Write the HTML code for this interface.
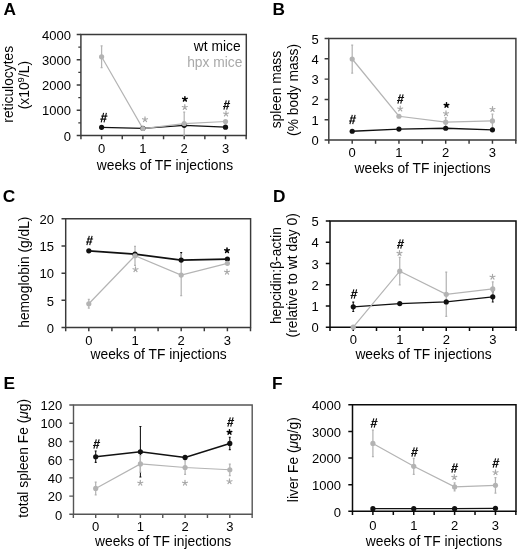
<!DOCTYPE html>
<html><head><meta charset="utf-8"><style>
html,body{margin:0;padding:0;background:#fff;}
svg{display:block;font-family:'Liberation Sans', sans-serif;filter:grayscale(1);}
</style></head><body>
<svg width="520" height="553" viewBox="0 0 520 553">
<rect width="520" height="553" fill="#fff"/>
<path d="M80.9 34.5H246.3V135.5H80.9Z" stroke="#3a3a3a" stroke-width="1.45" fill="none"/>
<path d="M76.70 135.50H80.9M76.70 110.25H80.9M76.70 85.00H80.9M76.70 59.75H80.9M76.70 34.50H80.9M78.30 122.88H80.9M78.30 97.62H80.9M78.30 72.38H80.9M78.30 47.12H80.9M80.95 135.5V139.30M101.60 135.5V139.30M122.25 135.5V139.30M142.90 135.5V139.30M163.55 135.5V139.30M184.20 135.5V139.30M204.85 135.5V139.30M225.50 135.5V139.30M246.15 135.5V139.30" stroke="#3a3a3a" stroke-width="1.45" fill="none"/>
<text x="71.00" y="140.70" font-size="13.0" text-anchor="end">0</text>
<text x="71.00" y="115.45" font-size="13.0" text-anchor="end">1000</text>
<text x="71.00" y="90.20" font-size="13.0" text-anchor="end">2000</text>
<text x="71.00" y="64.95" font-size="13.0" text-anchor="end">3000</text>
<text x="71.00" y="39.70" font-size="13.0" text-anchor="end">4000</text>
<text x="101.60" y="153.00" font-size="13.0" text-anchor="middle">0</text>
<text x="142.90" y="153.00" font-size="13.0" text-anchor="middle">1</text>
<text x="184.20" y="153.00" font-size="13.0" text-anchor="middle">2</text>
<text x="225.50" y="153.00" font-size="13.0" text-anchor="middle">3</text>
<text x="96.80" y="169.50" font-size="13.8">weeks of TF injections</text>
<text transform="translate(12.70 84.30) rotate(-90)" font-size="13.8" text-anchor="middle">reticulocytes</text>
<text transform="translate(29.00 85.10) rotate(-90)" font-size="13.8" text-anchor="middle">(x10<tspan font-size="9.5" dy="-5">9</tspan><tspan dy="5">/L)</tspan></text>
<text x="3.55" y="15" font-size="17.3" font-weight="bold">A</text>
<path d="M101.60 45.94V67.65M100.60 45.94H102.60M100.60 67.65H102.60M184.20 112.12V135.10M183.20 112.12H185.20M183.20 135.10H185.20" stroke="#b4b4b4" stroke-width="1.25" fill="none"/>
<polyline points="101.60,127.29 142.90,128.30 184.20,125.30 225.50,127.19" stroke="#111" stroke-width="1.3" fill="none"/>
<polyline points="101.60,56.80 142.90,128.51 184.20,123.61 225.50,121.51" stroke="#b4b4b4" stroke-width="1.2" fill="none"/>
<circle cx="101.60" cy="127.29" r="2.6" fill="#111"/>
<circle cx="142.90" cy="128.30" r="2.6" fill="#111"/>
<circle cx="184.20" cy="125.30" r="2.6" fill="#111"/>
<circle cx="225.50" cy="127.19" r="2.6" fill="#111"/>
<circle cx="101.60" cy="56.80" r="2.6" fill="#b3b3b3"/>
<circle cx="142.90" cy="128.51" r="2.6" fill="#b3b3b3"/>
<circle cx="184.20" cy="123.61" r="2.6" fill="#b3b3b3"/>
<circle cx="225.50" cy="121.51" r="2.6" fill="#b3b3b3"/>
<path d="M103.60 112.90L101.20 122.30M106.40 112.90L104.00 122.30M101.30 116.10H107.40M100.30 119.10H106.40" stroke="#111" stroke-width="1.15" fill="none"/>
<path d="M145.00 119.50L145.00 116.90M145.00 119.50L147.47 118.70M145.00 119.50L146.53 121.60M145.00 119.50L143.47 121.60M145.00 119.50L142.53 118.70" stroke="#a8a8a8" stroke-width="1.2" stroke-linecap="round" fill="none"/>
<path d="M184.80 107.30L184.80 104.70M184.80 107.30L187.27 106.50M184.80 107.30L186.33 109.40M184.80 107.30L183.27 109.40M184.80 107.30L182.33 106.50" stroke="#a8a8a8" stroke-width="1.2" stroke-linecap="round" fill="none"/>
<path d="M184.90 99.10L184.90 96.70M184.90 99.10L187.18 98.36M184.90 99.10L186.31 101.04M184.90 99.10L183.49 101.04M184.90 99.10L182.62 98.36" stroke="#000" stroke-width="1.5" stroke-linecap="round" fill="none"/>
<path d="M226.00 113.80L226.00 111.20M226.00 113.80L228.47 113.00M226.00 113.80L227.53 115.90M226.00 113.80L224.47 115.90M226.00 113.80L223.53 113.00" stroke="#a8a8a8" stroke-width="1.2" stroke-linecap="round" fill="none"/>
<path d="M226.30 100.30L223.90 109.70M229.10 100.30L226.70 109.70M224.00 103.50H230.10M223.00 106.50H229.10" stroke="#111" stroke-width="1.15" fill="none"/>
<text x="240.6" y="50.8" font-size="13.8" text-anchor="end">wt mice</text>
<text x="242.4" y="67.0" font-size="13.8" text-anchor="end" fill="#a9a9a9">hpx mice</text>
<path d="M328.8 38.5H515.9V140.0H328.8Z" stroke="#3a3a3a" stroke-width="1.45" fill="none"/>
<path d="M324.60 140.00H328.8M324.60 119.70H328.8M324.60 99.40H328.8M324.60 79.10H328.8M324.60 58.80H328.8M324.60 38.50H328.8M328.82 140.0V143.80M352.20 140.0V143.80M375.57 140.0V143.80M398.95 140.0V143.80M422.32 140.0V143.80M445.70 140.0V143.80M469.07 140.0V143.80M492.45 140.0V143.80M515.83 140.0V143.80" stroke="#3a3a3a" stroke-width="1.45" fill="none"/>
<text x="318.70" y="145.20" font-size="13.0" text-anchor="end">0</text>
<text x="318.70" y="124.90" font-size="13.0" text-anchor="end">1</text>
<text x="318.70" y="104.60" font-size="13.0" text-anchor="end">2</text>
<text x="318.70" y="84.30" font-size="13.0" text-anchor="end">3</text>
<text x="318.70" y="64.00" font-size="13.0" text-anchor="end">4</text>
<text x="318.70" y="43.70" font-size="13.0" text-anchor="end">5</text>
<text x="352.20" y="157.00" font-size="13.0" text-anchor="middle">0</text>
<text x="398.95" y="157.00" font-size="13.0" text-anchor="middle">1</text>
<text x="445.70" y="157.00" font-size="13.0" text-anchor="middle">2</text>
<text x="492.45" y="157.00" font-size="13.0" text-anchor="middle">3</text>
<text x="354.50" y="172.50" font-size="13.8">weeks of TF injections</text>
<text transform="translate(281.40 89.60) rotate(-90)" font-size="13.8" text-anchor="middle">spleen mass</text>
<text transform="translate(297.60 89.90) rotate(-90)" font-size="13.8" text-anchor="middle">(% body mass)</text>
<text x="272.6" y="15.2" font-size="17.3" font-weight="bold">B</text>
<path d="M352.20 45.00V73.01M351.20 45.00H353.20M351.20 73.01H353.20M445.70 117.67V126.60M444.70 117.67H446.70M444.70 126.60H446.70M492.45 114.02V127.82M491.45 114.02H493.45M491.45 127.82H493.45" stroke="#b4b4b4" stroke-width="1.25" fill="none"/>
<polyline points="352.20,131.27 398.95,129.04 445.70,128.23 492.45,129.85" stroke="#111" stroke-width="1.3" fill="none"/>
<polyline points="352.20,59.00 398.95,116.25 445.70,122.14 492.45,120.92" stroke="#b4b4b4" stroke-width="1.2" fill="none"/>
<circle cx="352.20" cy="131.27" r="2.6" fill="#111"/>
<circle cx="398.95" cy="129.04" r="2.6" fill="#111"/>
<circle cx="445.70" cy="128.23" r="2.6" fill="#111"/>
<circle cx="492.45" cy="129.85" r="2.6" fill="#111"/>
<circle cx="352.20" cy="59.00" r="2.6" fill="#b3b3b3"/>
<circle cx="398.95" cy="116.25" r="2.6" fill="#b3b3b3"/>
<circle cx="445.70" cy="122.14" r="2.6" fill="#b3b3b3"/>
<circle cx="492.45" cy="120.92" r="2.6" fill="#b3b3b3"/>
<path d="M352.30 114.80L349.90 124.20M355.10 114.80L352.70 124.20M350.00 118.00H356.10M349.00 121.00H355.10" stroke="#111" stroke-width="1.15" fill="none"/>
<path d="M400.30 94.30L397.90 103.70M403.10 94.30L400.70 103.70M398.00 97.50H404.10M397.00 100.50H403.10" stroke="#111" stroke-width="1.15" fill="none"/>
<path d="M400.20 108.80L400.20 106.20M400.20 108.80L402.67 108.00M400.20 108.80L401.73 110.90M400.20 108.80L398.67 110.90M400.20 108.80L397.73 108.00" stroke="#a8a8a8" stroke-width="1.2" stroke-linecap="round" fill="none"/>
<path d="M446.00 113.50L446.00 110.90M446.00 113.50L448.47 112.70M446.00 113.50L447.53 115.60M446.00 113.50L444.47 115.60M446.00 113.50L443.53 112.70" stroke="#a8a8a8" stroke-width="1.2" stroke-linecap="round" fill="none"/>
<path d="M446.50 105.20L446.50 102.80M446.50 105.20L448.78 104.46M446.50 105.20L447.91 107.14M446.50 105.20L445.09 107.14M446.50 105.20L444.22 104.46" stroke="#000" stroke-width="1.5" stroke-linecap="round" fill="none"/>
<path d="M492.50 109.30L492.50 106.70M492.50 109.30L494.97 108.50M492.50 109.30L494.03 111.40M492.50 109.30L490.97 111.40M492.50 109.30L490.03 108.50" stroke="#a8a8a8" stroke-width="1.2" stroke-linecap="round" fill="none"/>
<path d="M65.7 218.8H250.6V327.5H65.7Z" stroke="#3a3a3a" stroke-width="1.45" fill="none"/>
<path d="M61.50 327.50H65.7M61.50 300.32H65.7M61.50 273.15H65.7M61.50 245.98H65.7M61.50 218.80H65.7M65.70 327.5V331.30M88.80 327.5V331.30M111.90 327.5V331.30M135.00 327.5V331.30M158.10 327.5V331.30M181.20 327.5V331.30M204.30 327.5V331.30M227.40 327.5V331.30M250.50 327.5V331.30" stroke="#3a3a3a" stroke-width="1.45" fill="none"/>
<text x="54.00" y="332.70" font-size="13.0" text-anchor="end">0</text>
<text x="54.00" y="305.53" font-size="13.0" text-anchor="end">5</text>
<text x="54.00" y="278.35" font-size="13.0" text-anchor="end">10</text>
<text x="54.00" y="251.18" font-size="13.0" text-anchor="end">15</text>
<text x="54.00" y="224.00" font-size="13.0" text-anchor="end">20</text>
<text x="88.80" y="344.80" font-size="13.0" text-anchor="middle">0</text>
<text x="135.00" y="344.80" font-size="13.0" text-anchor="middle">1</text>
<text x="181.20" y="344.80" font-size="13.0" text-anchor="middle">2</text>
<text x="227.40" y="344.80" font-size="13.0" text-anchor="middle">3</text>
<text x="90.50" y="359.00" font-size="13.8">weeks of TF injections</text>
<text transform="translate(28.60 272.15) rotate(-90)" font-size="13.8" text-anchor="middle">hemoglobin (g/dL)</text>
<text x="2.76" y="201.9" font-size="17.3" font-weight="bold">C</text>
<path d="M181.20 252.50V260.11M180.20 252.50H182.20M180.20 260.11H182.20" stroke="#111" stroke-width="1.05" fill="none"/>
<path d="M88.80 299.40V308.10M87.80 299.40H89.80M87.80 308.10H89.80M135.00 246.25V265.27M134.00 246.25H136.00M134.00 265.27H136.00M181.20 254.40V295.71M180.20 254.40H182.20M180.20 295.71H182.20" stroke="#b4b4b4" stroke-width="1.25" fill="none"/>
<polyline points="88.80,250.87 135.00,254.13 181.20,260.11 227.40,259.02" stroke="#111" stroke-width="1.75" fill="none"/>
<polyline points="88.80,303.75 135.00,255.76 181.20,275.05 227.40,263.37" stroke="#b4b4b4" stroke-width="1.2" fill="none"/>
<circle cx="88.80" cy="250.87" r="2.6" fill="#111"/>
<circle cx="135.00" cy="254.13" r="2.6" fill="#111"/>
<circle cx="181.20" cy="260.11" r="2.6" fill="#111"/>
<circle cx="227.40" cy="259.02" r="2.6" fill="#111"/>
<circle cx="88.80" cy="303.75" r="2.6" fill="#b3b3b3"/>
<circle cx="135.00" cy="255.76" r="2.6" fill="#b3b3b3"/>
<circle cx="181.20" cy="275.05" r="2.6" fill="#b3b3b3"/>
<circle cx="227.40" cy="263.37" r="2.6" fill="#b3b3b3"/>
<path d="M89.30 235.80L86.90 245.20M92.10 235.80L89.70 245.20M87.00 239.00H93.10M86.00 242.00H92.10" stroke="#111" stroke-width="1.15" fill="none"/>
<path d="M135.50 269.50L135.50 266.90M135.50 269.50L137.97 268.70M135.50 269.50L137.03 271.60M135.50 269.50L133.97 271.60M135.50 269.50L133.03 268.70" stroke="#a8a8a8" stroke-width="1.2" stroke-linecap="round" fill="none"/>
<path d="M227.00 250.50L227.00 248.10M227.00 250.50L229.28 249.76M227.00 250.50L228.41 252.44M227.00 250.50L225.59 252.44M227.00 250.50L224.72 249.76" stroke="#000" stroke-width="1.5" stroke-linecap="round" fill="none"/>
<path d="M227.00 272.00L227.00 269.40M227.00 272.00L229.47 271.20M227.00 272.00L228.53 274.10M227.00 272.00L225.47 274.10M227.00 272.00L224.53 271.20" stroke="#a8a8a8" stroke-width="1.2" stroke-linecap="round" fill="none"/>
<path d="M330.0 221.0H516.0V327.2H330.0Z" stroke="#0a0a0a" stroke-width="1.5" fill="none"/>
<path d="M325.80 327.20H330.0M325.80 305.96H330.0M325.80 284.72H330.0M325.80 263.48H330.0M325.80 242.24H330.0M325.80 221.00H330.0M330.00 327.2V331.00M353.25 327.2V331.00M376.50 327.2V331.00M399.75 327.2V331.00M423.00 327.2V331.00M446.25 327.2V331.00M469.50 327.2V331.00M492.75 327.2V331.00M516.00 327.2V331.00" stroke="#0a0a0a" stroke-width="1.5" fill="none"/>
<text x="318.70" y="332.40" font-size="13.0" text-anchor="end">0</text>
<text x="318.70" y="311.16" font-size="13.0" text-anchor="end">1</text>
<text x="318.70" y="289.92" font-size="13.0" text-anchor="end">2</text>
<text x="318.70" y="268.68" font-size="13.0" text-anchor="end">3</text>
<text x="318.70" y="247.44" font-size="13.0" text-anchor="end">4</text>
<text x="318.70" y="226.20" font-size="13.0" text-anchor="end">5</text>
<text x="353.25" y="344.10" font-size="13.0" text-anchor="middle">0</text>
<text x="399.75" y="344.10" font-size="13.0" text-anchor="middle">1</text>
<text x="446.25" y="344.10" font-size="13.0" text-anchor="middle">2</text>
<text x="492.75" y="344.10" font-size="13.0" text-anchor="middle">3</text>
<text x="355.40" y="358.50" font-size="13.8">weeks of TF injections</text>
<text transform="translate(281.00 275.65) rotate(-90)" font-size="13.8" text-anchor="middle">hepcidin:β-actin</text>
<text transform="translate(297.30 275.30) rotate(-90)" font-size="13.8" text-anchor="middle">(relative to wt day 0)</text>
<text x="272.9" y="201.5" font-size="17.3" font-weight="bold">D</text>
<path d="M353.25 302.14V311.48M352.25 302.14H354.25M352.25 311.48H354.25M492.75 291.73V301.92M491.75 291.73H493.75M491.75 301.92H493.75" stroke="#111" stroke-width="1.05" fill="none"/>
<path d="M399.75 257.32V284.93M398.75 257.32H400.75M398.75 284.93H400.75M446.25 272.19V316.37M445.25 272.19H447.25M445.25 316.37H447.25M492.75 281.75V296.19M491.75 281.75H493.75M491.75 296.19H493.75" stroke="#b4b4b4" stroke-width="1.25" fill="none"/>
<polyline points="353.25,306.81 399.75,303.62 446.25,301.92 492.75,296.83" stroke="#111" stroke-width="1.3" fill="none"/>
<polyline points="353.25,327.20 399.75,271.13 446.25,294.28 492.75,288.97" stroke="#b4b4b4" stroke-width="1.2" fill="none"/>
<circle cx="353.25" cy="306.81" r="2.6" fill="#111"/>
<circle cx="399.75" cy="303.62" r="2.6" fill="#111"/>
<circle cx="446.25" cy="301.92" r="2.6" fill="#111"/>
<circle cx="492.75" cy="296.83" r="2.6" fill="#111"/>
<circle cx="353.25" cy="327.20" r="2.6" fill="#b3b3b3"/>
<circle cx="399.75" cy="271.13" r="2.6" fill="#b3b3b3"/>
<circle cx="446.25" cy="294.28" r="2.6" fill="#b3b3b3"/>
<circle cx="492.75" cy="288.97" r="2.6" fill="#b3b3b3"/>
<path d="M353.80 289.30L351.40 298.70M356.60 289.30L354.20 298.70M351.50 292.50H357.60M350.50 295.50H356.60" stroke="#111" stroke-width="1.15" fill="none"/>
<path d="M400.30 239.30L397.90 248.70M403.10 239.30L400.70 248.70M398.00 242.50H404.10M397.00 245.50H403.10" stroke="#111" stroke-width="1.15" fill="none"/>
<path d="M399.50 253.20L399.50 250.60M399.50 253.20L401.97 252.40M399.50 253.20L401.03 255.30M399.50 253.20L397.97 255.30M399.50 253.20L397.03 252.40" stroke="#a8a8a8" stroke-width="1.2" stroke-linecap="round" fill="none"/>
<path d="M492.50 277.00L492.50 274.40M492.50 277.00L494.97 276.20M492.50 277.00L494.03 279.10M492.50 277.00L490.97 279.10M492.50 277.00L490.03 276.20" stroke="#a8a8a8" stroke-width="1.2" stroke-linecap="round" fill="none"/>
<path d="M73.5 405.0H252.2V514.3H73.5Z" stroke="#555" stroke-width="1.4" fill="none"/>
<path d="M69.30 514.30H73.5M69.30 496.08H73.5M69.30 477.87H73.5M69.30 459.65H73.5M69.30 441.43H73.5M69.30 423.22H73.5M69.30 405.00H73.5M73.35 514.3V518.10M95.70 514.3V518.10M118.05 514.3V518.10M140.40 514.3V518.10M162.75 514.3V518.10M185.10 514.3V518.10M207.45 514.3V518.10M229.80 514.3V518.10M252.15 514.3V518.10" stroke="#555" stroke-width="1.4" fill="none"/>
<text x="62.30" y="519.50" font-size="13.0" text-anchor="end">0</text>
<text x="62.30" y="501.29" font-size="13.0" text-anchor="end">20</text>
<text x="62.30" y="483.07" font-size="13.0" text-anchor="end">40</text>
<text x="62.30" y="464.85" font-size="13.0" text-anchor="end">60</text>
<text x="62.30" y="446.64" font-size="13.0" text-anchor="end">80</text>
<text x="62.30" y="428.42" font-size="13.0" text-anchor="end">100</text>
<text x="62.30" y="410.20" font-size="13.0" text-anchor="end">120</text>
<text x="95.70" y="530.50" font-size="13.0" text-anchor="middle">0</text>
<text x="140.40" y="530.50" font-size="13.0" text-anchor="middle">1</text>
<text x="185.10" y="530.50" font-size="13.0" text-anchor="middle">2</text>
<text x="229.80" y="530.50" font-size="13.0" text-anchor="middle">3</text>
<text x="95.00" y="546.00" font-size="13.8">weeks of TF injections</text>
<text transform="translate(28.30 458.25) rotate(-90)" font-size="13.8" text-anchor="middle">total spleen Fe (<tspan font-style="italic">μ</tspan>g)</text>
<text x="3.4" y="388.5" font-size="17.3" font-weight="bold">E</text>
<path d="M95.70 451.09V462.38M94.70 451.09H96.70M94.70 462.38H96.70M140.40 426.40V477.05M139.40 426.40H141.40M139.40 477.05H141.40M229.80 437.24V449.63M228.80 437.24H230.80M228.80 449.63H230.80" stroke="#111" stroke-width="1.05" fill="none"/>
<path d="M95.70 482.06V494.81M94.70 482.06H96.70M94.70 494.81H96.70M140.40 455.73V472.13M139.40 455.73H141.40M139.40 472.13H141.40M185.10 460.65V474.31M184.10 460.65H186.10M184.10 474.31H186.10M229.80 464.02V475.50M228.80 464.02H230.80M228.80 475.50H230.80" stroke="#b4b4b4" stroke-width="1.25" fill="none"/>
<polyline points="95.70,456.74 140.40,451.73 185.10,457.46 229.80,443.44" stroke="#111" stroke-width="1.6" fill="none"/>
<polyline points="95.70,488.43 140.40,463.93 185.10,467.48 229.80,469.76" stroke="#b4b4b4" stroke-width="1.2" fill="none"/>
<circle cx="95.70" cy="456.74" r="2.6" fill="#111"/>
<circle cx="140.40" cy="451.73" r="2.6" fill="#111"/>
<circle cx="185.10" cy="457.46" r="2.6" fill="#111"/>
<circle cx="229.80" cy="443.44" r="2.6" fill="#111"/>
<circle cx="95.70" cy="488.43" r="2.6" fill="#b3b3b3"/>
<circle cx="140.40" cy="463.93" r="2.6" fill="#b3b3b3"/>
<circle cx="185.10" cy="467.48" r="2.6" fill="#b3b3b3"/>
<circle cx="229.80" cy="469.76" r="2.6" fill="#b3b3b3"/>
<path d="M96.30 439.30L93.90 448.70M99.10 439.30L96.70 448.70M94.00 442.50H100.10M93.00 445.50H99.10" stroke="#111" stroke-width="1.15" fill="none"/>
<path d="M140.30 483.00L140.30 480.40M140.30 483.00L142.77 482.20M140.30 483.00L141.83 485.10M140.30 483.00L138.77 485.10M140.30 483.00L137.83 482.20" stroke="#a8a8a8" stroke-width="1.2" stroke-linecap="round" fill="none"/>
<path d="M185.00 483.00L185.00 480.40M185.00 483.00L187.47 482.20M185.00 483.00L186.53 485.10M185.00 483.00L183.47 485.10M185.00 483.00L182.53 482.20" stroke="#a8a8a8" stroke-width="1.2" stroke-linecap="round" fill="none"/>
<path d="M229.50 481.50L229.50 478.90M229.50 481.50L231.97 480.70M229.50 481.50L231.03 483.60M229.50 481.50L227.97 483.60M229.50 481.50L227.03 480.70" stroke="#a8a8a8" stroke-width="1.2" stroke-linecap="round" fill="none"/>
<path d="M229.50 432.20L229.50 429.80M229.50 432.20L231.78 431.46M229.50 432.20L230.91 434.14M229.50 432.20L228.09 434.14M229.50 432.20L227.22 431.46" stroke="#000" stroke-width="1.5" stroke-linecap="round" fill="none"/>
<path d="M230.30 417.30L227.90 426.70M233.10 417.30L230.70 426.70M228.00 420.50H234.10M227.00 423.50H233.10" stroke="#111" stroke-width="1.15" fill="none"/>
<path d="M352.5 404.8H516.0V511.3H352.5Z" stroke="#0a0a0a" stroke-width="1.5" fill="none"/>
<path d="M348.30 511.30H352.5M348.30 484.68H352.5M348.30 458.05H352.5M348.30 431.43H352.5M348.30 404.80H352.5M352.47 511.3V515.10M372.90 511.3V515.10M393.32 511.3V515.10M413.75 511.3V515.10M434.17 511.3V515.10M454.60 511.3V515.10M475.02 511.3V515.10M495.45 511.3V515.10M515.88 511.3V515.10" stroke="#0a0a0a" stroke-width="1.5" fill="none"/>
<text x="341.00" y="516.50" font-size="13.0" text-anchor="end">0</text>
<text x="341.00" y="489.88" font-size="13.0" text-anchor="end">1000</text>
<text x="341.00" y="463.25" font-size="13.0" text-anchor="end">2000</text>
<text x="341.00" y="436.63" font-size="13.0" text-anchor="end">3000</text>
<text x="341.00" y="410.00" font-size="13.0" text-anchor="end">4000</text>
<text x="372.90" y="529.50" font-size="13.0" text-anchor="middle">0</text>
<text x="413.75" y="529.50" font-size="13.0" text-anchor="middle">1</text>
<text x="454.60" y="529.50" font-size="13.0" text-anchor="middle">2</text>
<text x="495.45" y="529.50" font-size="13.0" text-anchor="middle">3</text>
<text x="365.80" y="546.00" font-size="13.8">weeks of TF injections</text>
<text transform="translate(297.60 459.65) rotate(-90)" font-size="13.8" text-anchor="middle">liver Fe (<tspan font-style="italic">μ</tspan>g/g)</text>
<text x="272.1" y="389.4" font-size="17.3" font-weight="bold">F</text>
<path d="M372.90 430.09V456.72M371.90 430.09H373.90M371.90 456.72H373.90M413.75 458.32V474.29M412.75 458.32H414.75M412.75 474.29H414.75M454.60 482.89V490.88M453.60 482.89H455.60M453.60 490.88H455.60M495.45 477.57V493.01M494.45 477.57H496.45M494.45 493.01H496.45" stroke="#b4b4b4" stroke-width="1.25" fill="none"/>
<polyline points="372.90,508.64 413.75,508.64 454.60,508.64 495.45,508.37" stroke="#111" stroke-width="1.3" fill="none"/>
<polyline points="372.90,443.41 413.75,466.30 454.60,486.88 495.45,485.29" stroke="#b4b4b4" stroke-width="1.2" fill="none"/>
<circle cx="372.90" cy="508.64" r="2.6" fill="#111"/>
<circle cx="413.75" cy="508.64" r="2.6" fill="#111"/>
<circle cx="454.60" cy="508.64" r="2.6" fill="#111"/>
<circle cx="495.45" cy="508.37" r="2.6" fill="#111"/>
<circle cx="372.90" cy="443.41" r="2.6" fill="#b3b3b3"/>
<circle cx="413.75" cy="466.30" r="2.6" fill="#b3b3b3"/>
<circle cx="454.60" cy="486.88" r="2.6" fill="#b3b3b3"/>
<circle cx="495.45" cy="485.29" r="2.6" fill="#b3b3b3"/>
<path d="M373.80 418.30L371.40 427.70M376.60 418.30L374.20 427.70M371.50 421.50H377.60M370.50 424.50H376.60" stroke="#111" stroke-width="1.15" fill="none"/>
<path d="M414.30 447.30L411.90 456.70M417.10 447.30L414.70 456.70M412.00 450.50H418.10M411.00 453.50H417.10" stroke="#111" stroke-width="1.15" fill="none"/>
<path d="M454.30 463.30L451.90 472.70M457.10 463.30L454.70 472.70M452.00 466.50H458.10M451.00 469.50H457.10" stroke="#111" stroke-width="1.15" fill="none"/>
<path d="M454.30 477.20L454.30 474.60M454.30 477.20L456.77 476.40M454.30 477.20L455.83 479.30M454.30 477.20L452.77 479.30M454.30 477.20L451.83 476.40" stroke="#a8a8a8" stroke-width="1.2" stroke-linecap="round" fill="none"/>
<path d="M495.60 458.30L493.20 467.70M498.40 458.30L496.00 467.70M493.30 461.50H499.40M492.30 464.50H498.40" stroke="#111" stroke-width="1.15" fill="none"/>
<path d="M495.50 472.50L495.50 469.90M495.50 472.50L497.97 471.70M495.50 472.50L497.03 474.60M495.50 472.50L493.97 474.60M495.50 472.50L493.03 471.70" stroke="#a8a8a8" stroke-width="1.2" stroke-linecap="round" fill="none"/>
</svg></body></html>
